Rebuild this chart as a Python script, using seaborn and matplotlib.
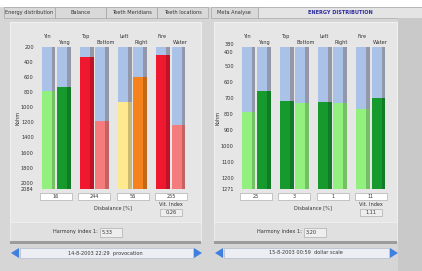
import numpy as np
import pandas as pd
import seaborn as sns
import matplotlib
matplotlib.use("Agg")
import matplotlib.pyplot as plt
from matplotlib.patches import Rectangle, Polygon
from matplotlib.transforms import blended_transform_factory
import matplotlib.colors as mcolors

# ---- data ----
bar_names = ["Yin", "Yang", "Top", "Bottom", "Left", "Right", "Fire", "Water"]
pair_names = ["Yin/Yang", "Top/Bottom", "Left/Right", "Fire/Water"]

left_levels = [790, 730, 330, 1180, 930, 600, 305, 1240]
right_levels = [788, 656, 716, 733, 727, 729, 770, 697]

left_colors = ["#92f07e", "#169a2e", "#f0182e", "#f47c7c",
               "#ffe98e", "#f5821c", "#f0182e", "#f47c7c"]
right_colors = ["#92f07e", "#169a2e", "#169a2e", "#92f07e",
                "#169a2e", "#92f07e", "#92f07e", "#169a2e"]

left_range = (200, 2084)
right_range = (380, 1271)
left_ticks = [200, 400, 600, 800, 1000, 1200, 1400, 1600, 1800, 2000, 2084]
right_ticks = [380, 400, 500, 600, 700, 800, 900, 1000, 1100, 1200, 1271]

left_disbalance = ["16", "244", "56", "255"]
right_disbalance = ["25", "3", "1", "11"]
left_vit, right_vit = "0,26", "1,11"
left_harmony, right_harmony = "5,33", "3,20"
left_date = "14-8-2003 22:29  provocation"
right_date = "15-8-2003 00:59  dollar scale"

tabs = ["Energy distribution", "Balance", "Teeth Meridians", "Teeth locations"]

BLUE = "#aac2e8"
BLUE_EDGE = "#9298aa"
FS = 3.6

sns.set_style("white")
plt.rcParams["font.family"] = ["DejaVu Sans"]

W, H = 422, 271
fig = plt.figure(figsize=(W / 100, H / 100), dpi=100, facecolor="#d6d6d6")


def rect(x0, y0, x1, y1, **kw):
    kw.setdefault("zorder", -1)
    fig.add_artist(Rectangle((x0 / W, 1 - y1 / H), (x1 - x0) / W, (y1 - y0) / H,
                             transform=fig.transFigure, **kw))


def ftext(x, y, s, **kw):
    kw.setdefault("fontsize", FS)
    kw.setdefault("color", "#333333")
    fig.text(x / W, 1 - y / H, s, va="center", **kw)


def darker(c, f=0.8):
    r, g, b = mcolors.to_rgb(c)
    return (r * f, g * f, b * f)


# ---- window chrome ----
rect(0, 0, W, 7, color="white", lw=0)
for i, t in enumerate(tabs):
    rect(4 + i * 51, 7, 4 + (i + 1) * 51, 18, facecolor="#d9d9d9", edgecolor="#9a9a9a", lw=0.4)
    ftext(4 + i * 51 + 25.5, 12.5, t, ha="center")
rect(211, 7, 258, 18, facecolor="#d9d9d9", edgecolor="#9a9a9a", lw=0.4)
ftext(234, 12.5, "Meta Analyse", ha="center")
rect(258, 7, W, 18, facecolor="#e4e4e4", edgecolor="#9a9a9a", lw=0.4)
ftext(340, 12.5, "ENERGY DISTRIBUTION", ha="center", color="#2a2aa0", fontweight="bold")
rect(398, 18, W, H, color="#c9c9c9", lw=0)

panels = [
    dict(x0=10, x1=201, left=37, levels=left_levels, colors=left_colors, rng=left_range,
         ticks=left_ticks, dis=left_disbalance, vit=left_vit, harm=left_harmony, date=left_date),
    dict(x0=214, x1=397, left=237, levels=right_levels, colors=right_colors, rng=right_range,
         ticks=right_ticks, dis=right_disbalance, vit=right_vit, harm=right_harmony, date=right_date),
]

for p in panels:
    x0, x1 = p["x0"], p["x1"]
    rect(x0, 22, x1, 222, facecolor="#e6e6e6", edgecolor="#f4f4f4", lw=0.6)
    rect(x0, 222, x1, 241, facecolor="#e0e0e0", edgecolor="#f2f2f2", lw=0.5)
    rect(x0, 241, x1, 244, color="#9c9c9c", lw=0)

    ax = fig.add_axes([p["left"] / W, 1 - 189 / H, 153 / W, 142 / H])
    ax.set_facecolor("none")
    lo, hi = p["rng"]
    df = pd.DataFrame({
        "pair": np.repeat(pair_names, 2),
        "side": ["a", "b"] * 4,
        "level": p["levels"],
        "full": [hi] * 8,
    })

    # colored part (full column), then blue part from the top down to the level
    sns.barplot(data=df, x="pair", y="full", hue="side", dodge=True, gap=0.1,
                palette=["#888888", "#888888"], saturation=1, errorbar=None,
                legend=False, ax=ax, linewidth=0)
    for k, cont in enumerate(ax.containers):
        for j, bar in enumerate(cont):
            c = p["colors"][2 * j + k]
            bar.set_facecolor(c)
            w = bar.get_width()
            ax.add_patch(Rectangle((bar.get_x() + 0.72 * w, bar.get_y()), 0.28 * w,
                                   bar.get_height(), color=darker(c), lw=0))
    n_before = len(ax.containers)
    sns.barplot(data=df, x="pair", y="level", hue="side", dodge=True, gap=0.1,
                palette=[BLUE, BLUE], saturation=1, errorbar=None,
                legend=False, ax=ax, linewidth=0)
    for cont in ax.containers[n_before:]:
        for bar in cont:
            w = bar.get_width()
            ax.add_patch(Rectangle((bar.get_x() + 0.72 * w, bar.get_y()), 0.28 * w,
                                   bar.get_height(), color=BLUE_EDGE, lw=0))

    ax.set_ylim(hi, lo)
    ax.set_xlim(-0.5, 3.5)
    ax.set_yticks(p["ticks"])
    labels = ax.set_yticklabels([str(t) for t in p["ticks"]], fontsize=FS, color="#333333")
    if p["ticks"][1] - p["ticks"][0] < 50:
        labels[0].set_va("bottom")
        labels[1].set_va("top")
    ax.set_xticks([])
    ax.set_xlabel("")
    ax.set_ylabel("Kohm", fontsize=FS, color="#333333", labelpad=0.5)
    ax.tick_params(axis="y", length=1.5, width=0.4, pad=0.8, color="#555555")
    for s in ax.spines.values():
        s.set_visible(False)

    trans = blended_transform_factory(ax.transData, ax.transAxes)
    # bar titles, staggered
    for k, cont in enumerate(ax.containers[:2]):
        for j, bar in enumerate(cont):
            ax.annotate(bar_names[2 * j + k], (bar.get_x(), 1.0), xycoords=trans,
                        xytext=(1, 7.5 if k == 0 else 3), textcoords="offset points",
                        fontsize=FS, color="#333333", va="center", ha="left")
    # disbalance boxes
    for j, v in enumerate(p["dis"]):
        ax.add_patch(Rectangle((j - 0.42, -0.08), 0.84, 0.052, transform=trans,
                               facecolor="white", edgecolor="#a0a0a0", lw=0.4, clip_on=False))
        ax.text(j, -0.054, v, transform=trans, ha="center", va="center",
                fontsize=FS, color="#333333")

    # text widgets below the chart
    ftext(p["left"] + 76, 208, "Disbalance [%]", ha="center")
    vx = p["left"] + 134
    ftext(vx, 204, "Vit. Index", ha="center")
    rect(vx - 11, 209, vx + 11, 216, facecolor="#eeeeee", edgecolor="#a0a0a0", lw=0.4)
    ftext(vx, 212.5, p["vit"], ha="center")
    hx = x0 + 88
    ftext(hx, 232, "Harmony index 1:", ha="right")
    rect(hx + 2, 228, hx + 24, 237, facecolor="#eeeeee", edgecolor="#a0a0a0", lw=0.4)
    ftext(hx + 4, 232.5, p["harm"], ha="left")

    # navigation bar
    rect(x0 + 10, 248, x1 - 8, 258, facecolor="#eceef3", edgecolor="#b4bccb", lw=0.5)
    ftext((x0 + x1) / 2, 253, p["date"], ha="center")
    for pts in ([(x0 + 1, 253), (x0 + 9, 248), (x0 + 9, 258)],
                [(x1 - 7, 248), (x1 - 7, 258), (x1 + 1, 253)]):
        fig.add_artist(Polygon([(a / W, 1 - b / H) for a, b in pts], closed=True,
                               transform=fig.transFigure, color="#3f7fe0", lw=0))

fig.savefig("out.png", dpi=100, facecolor=fig.get_facecolor())
